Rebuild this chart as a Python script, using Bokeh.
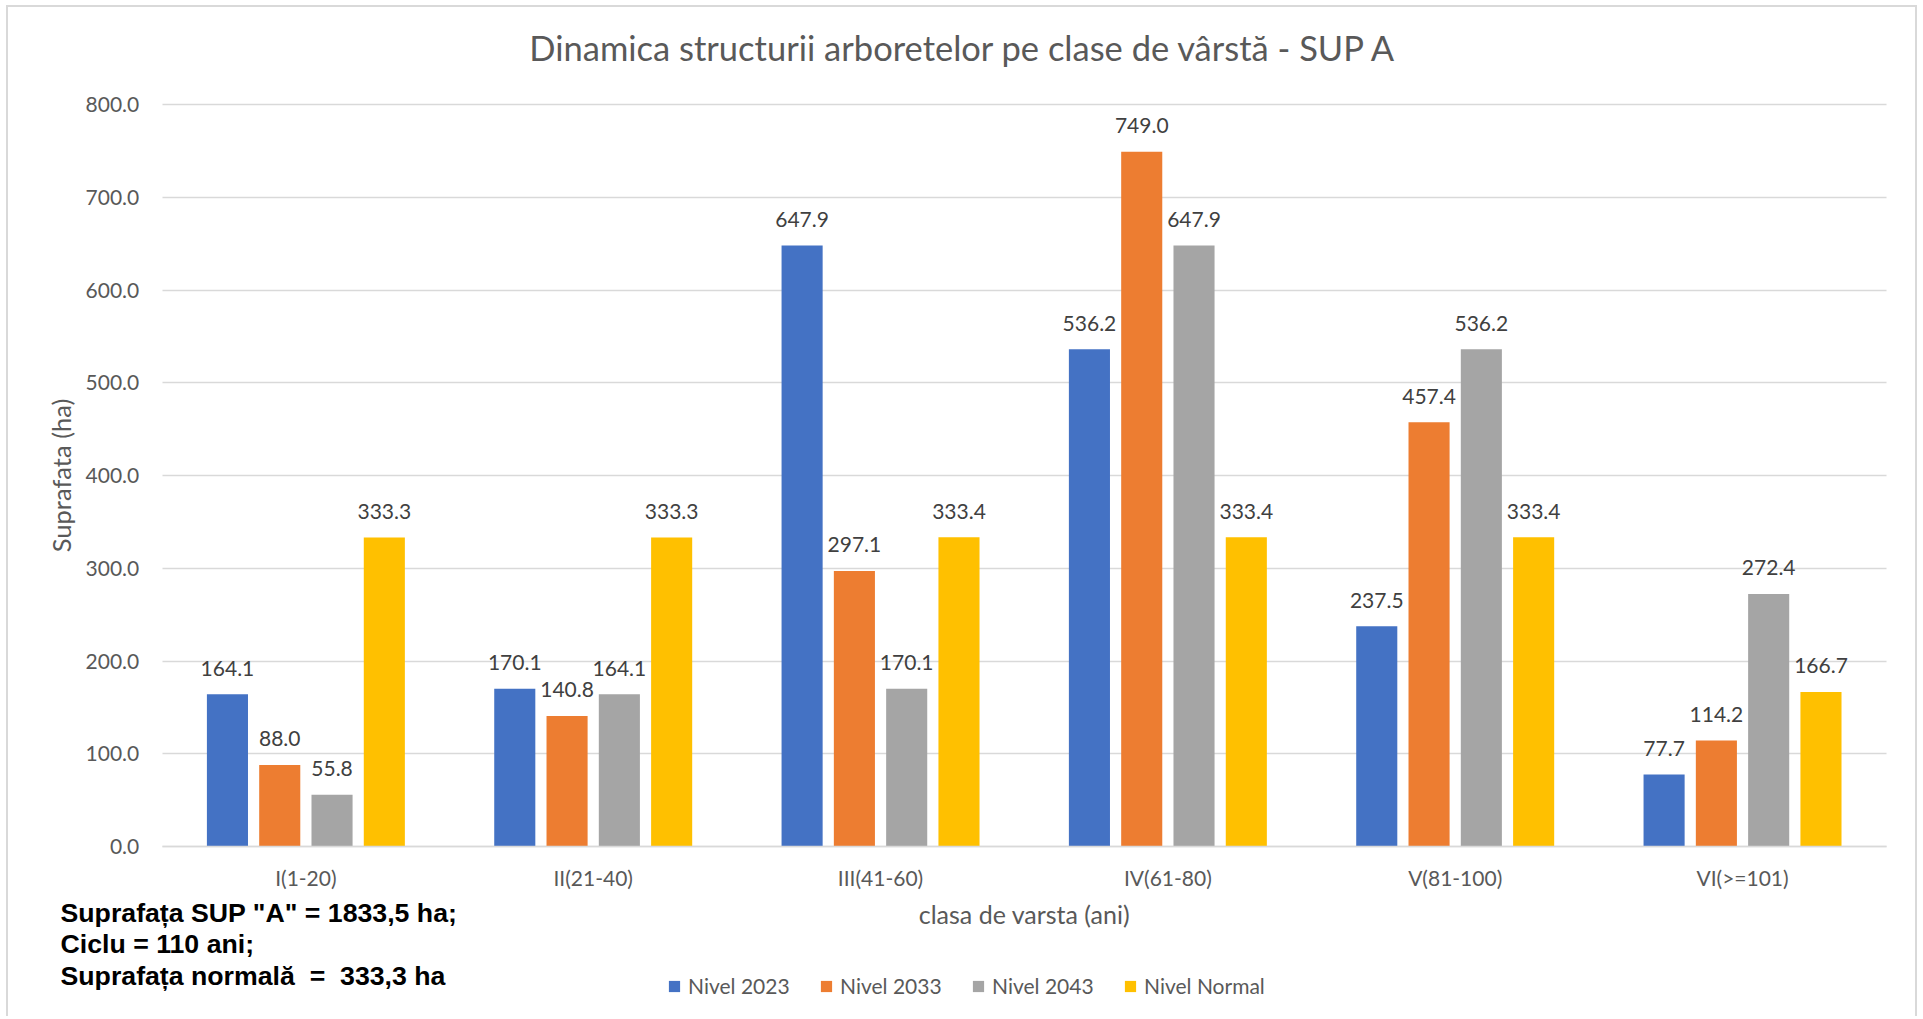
import math
from bokeh.plotting import figure
from bokeh.models import (ColumnDataSource, Legend, LegendItem, Label,
                          FixedTicker, PrintfTickFormatter, Range1d)
from bokeh.transform import dodge
from bokeh.core.properties import value
from bokeh.embed import file_html
from bokeh.resources import INLINE

# ---------------- data ----------------
categories = ["I(1-20)", "II(21-40)", "III(41-60)", "IV(61-80)", "V(81-100)", "VI(>=101)"]
nivel_2023 = [164.1, 170.1, 647.9, 536.2, 237.5, 77.7]
nivel_2033 = [88.0, 140.8, 297.1, 749.0, 457.4, 114.2]
nivel_2043 = [55.8, 164.1, 170.1, 647.9, 536.2, 272.4]
nivel_normal = [333.3, 333.3, 333.4, 333.4, 333.4, 166.7]
series_names = ["Nivel 2023", "Nivel 2033", "Nivel 2043", "Nivel Normal"]
y_ticks = [0, 100, 200, 300, 400, 500, 600, 700, 800]

title_text = "Dinamica structurii arboretelor pe clase de vârstă - SUP A"
x_title = "clasa de varsta (ani)"
y_title = "Suprafata (ha)"
note_lines = ['Suprafața SUP "A" = 1833,5 ha;', "Ciclu = 110 ani;",
              "Suprafața normală\u00a0 =\u00a0 333,3 ha"]

# ---------------- styling ----------------
colors = ["#4472C4", "#ED7D31", "#A5A5A5", "#FFC000"]
offsets = [-0.273, -0.091, 0.091, 0.273]
bar_w = 0.143
FONT = "Lato"
TXT = "#595959"

# category positions on the x scale (1..n), plotted area spans 0.5 .. n+0.5
x_pos = list(range(1, len(categories) + 1))
x_lo, x_hi = 0.5, len(categories) + 0.5

series = [nivel_2023, nivel_2033, nivel_2043, nivel_normal]
data = {"x": x_pos}
for i, s in enumerate(series):
    data[f"s{i}"] = s
    data[f"l{i}"] = [f"{v:.1f}" for v in s]
source = ColumnDataSource(data)

W, H = 1907, 1011
p = figure(x_range=Range1d(-0.035, 6.602), y_range=Range1d(-185.4, 904.6),
           width=W, height=H, output_backend="svg", toolbar_location=None,
           min_border_left=0, min_border_right=0, min_border_top=0, min_border_bottom=0)
p.styles = {"margin-left": "8px", "margin-top": "7px",
            "box-shadow": "-2px -2px 0 0 #D9D9D9, 2px -2px 0 0 #D9D9D9"}
p.title.visible = False
p.outline_line_color = None

p.xgrid.grid_line_color = None
yg = p.ygrid[0]
yg.grid_line_color = "#D9D9D9"
yg.grid_line_width = 1.5
yg.ticker = FixedTicker(ticks=y_ticks)
try:
    yg.cross_bounds = (x_lo, x_hi)
except Exception:
    yg.grid_line_color = None
    p.segment(x0=[x_lo] * len(y_ticks), x1=[x_hi] * len(y_ticks), y0=y_ticks, y1=y_ticks,
              line_color="#D9D9D9", line_width=1.5)

ya = p.yaxis[0]
ya.fixed_location = x_lo
ya.bounds = (y_ticks[0], y_ticks[-1])
ya.ticker = FixedTicker(ticks=y_ticks)
ya.formatter = PrintfTickFormatter(format="%.1f")
ya.axis_line_color = None
ya.major_tick_line_color = None
ya.minor_tick_line_color = None
ya.major_label_standoff = 17
ya.major_label_text_font = FONT
ya.major_label_text_font_size = "21px"
ya.major_label_text_color = TXT

xa = p.xaxis[0]
xa.fixed_location = 0
xa.bounds = (x_lo, x_hi)
xa.ticker = FixedTicker(ticks=x_pos)
xa.major_label_overrides = {xp: c for xp, c in zip(x_pos, categories)}
xa.axis_line_color = "#D9D9D9"
xa.axis_line_width = 1.5
xa.major_tick_line_color = None
xa.minor_tick_line_color = None
xa.major_label_standoff = 12
xa.major_label_text_font = FONT
xa.major_label_text_font_size = "21px"
xa.major_label_text_color = TXT
xa.axis_label = x_title
xa.axis_label_standoff = 6
xa.axis_label_text_font = FONT
xa.axis_label_text_font_size = "25px"
xa.axis_label_text_font_style = "normal"
xa.axis_label_text_color = TXT

items = []
for i, name in enumerate(series_names):
    r = p.vbar(x=dodge("x", offsets[i]), top=f"s{i}", width=bar_w,
               source=source, fill_color=colors[i], line_color=None)
    p.text(x=dodge("x", offsets[i]), y=f"s{i}", text=f"l{i}", source=source,
           text_align="center", text_baseline="alphabetic", y_offset=-26,
           text_font=value(FONT), text_font_size="21px", text_color="#404040")
    items.append(LegendItem(label=name, renderers=[r]))

# texts placed in screen pixels of the canvas (x from left, y from bottom)
p.add_layout(Label(x=955, y=971.5, x_units="screen", y_units="screen", text=title_text,
                   text_font=FONT, text_font_size="34.5px", text_color=TXT,
                   text_align="center", text_baseline="middle"))
p.add_layout(Label(x=52, y=543, x_units="screen", y_units="screen", text=y_title,
                   angle=math.pi / 2, text_font=FONT, text_font_size="25.5px", text_color=TXT,
                   text_align="center", text_baseline="middle"))
p.add_layout(Label(x=52, y=121, x_units="screen", y_units="screen", text="\n".join(note_lines),
                   text_font="Liberation Sans", text_font_style="bold", text_font_size="26.7px",
                   text_line_height=1.05, text_color="black", text_baseline="top", text_align="left"))

legend = Legend(items=items, orientation="horizontal", location=(659, 20),
                glyph_width=14, glyph_height=14, label_standoff=7, label_width=126, spacing=5,
                padding=0, margin=0, border_line_color=None, background_fill_alpha=0,
                label_text_font=FONT, label_text_font_size="21px", label_text_color=TXT)
p.add_layout(legend)

open("out.html", "w").write(file_html(p, INLINE))
